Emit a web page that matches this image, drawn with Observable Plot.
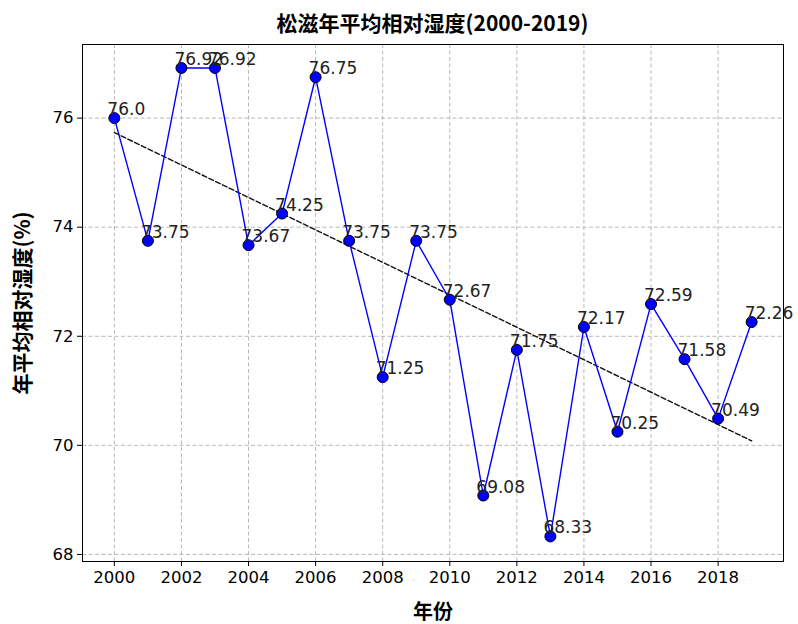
<!DOCTYPE html>
<html>
<head>
<meta charset="utf-8">
<script src="https://cdn.jsdelivr.net/npm/d3@7"></script>
<script src="https://cdn.jsdelivr.net/npm/@observablehq/plot@0.6"></script>
<style>
  body { margin: 0; background: #fff; }
  #wrap { position: relative; width: 798px; height: 624px; }
  #title { position: absolute; left: 82px; width: 701px; top: 7px; text-align: center;
    font-family: "Noto Sans CJK SC", sans-serif; font-weight: bold; font-size: 21px; line-height: 30px; color: #000; }
  #chart { position: absolute; left: 0; top: 36px; }
</style>
</head>
<body>
<div id="wrap">
  <div id="title">松滋年平均相对湿度(2000-2019)</div>
  <div id="chart"></div>
</div>
<script>
const years = [2000, 2001, 2002, 2003, 2004, 2005, 2006, 2007, 2008, 2009, 2010, 2011, 2012, 2013, 2014, 2015, 2016, 2017, 2018, 2019];
const humidity = [76.0, 73.75, 76.92, 76.92, 73.67, 74.25, 76.75, 73.75, 71.25, 73.75, 72.67, 69.08, 71.75, 68.33, 72.17, 70.25, 72.59, 71.58, 70.49, 72.26];
const valueLabels = ["76.0", "73.75", "76.92", "76.92", "73.67", "74.25", "76.75", "73.75", "71.25", "73.75", "72.67", "69.08", "71.75", "68.33", "72.17", "70.25", "72.59", "71.58", "70.49", "72.26"];
const xTicks = [2000, 2002, 2004, 2006, 2008, 2010, 2012, 2014, 2016, 2018];
const yTicks = [68, 70, 72, 74, 76];
const xLabel = "年份";
const yLabel = "年平均相对湿度(%)";

const data = years.map((y, i) => ({year: y, value: humidity[i], label: valueLabels[i]}));

const cjk = "Noto Sans CJK SC";
const chart = Plot.plot({
  width: 798,
  height: 588,
  marginLeft: 82,
  marginRight: 15,
  marginTop: 8,
  marginBottom: 63,
  style: {fontFamily: "DejaVu Sans", fontSize: "16px", color: "#000", background: "#fff"},
  x: {domain: [1999.05, 2019.95], ticks: xTicks, tickFormat: "d"},
  y: {domain: [67.87, 77.35], ticks: yTicks, tickFormat: "d"},
  marks: [
    Plot.gridX(xTicks, {stroke: "#b0b0b0", strokeOpacity: 1, strokeDasharray: "4,2.5", strokeWidth: 0.9}),
    Plot.gridY(yTicks, {stroke: "#b0b0b0", strokeOpacity: 1, strokeDasharray: "4,2.5", strokeWidth: 0.9}),
    Plot.axisX(xTicks, {tickSize: 5, tickPadding: 5, label: null, tickFormat: "d", fontSize: 16.5}),
    Plot.axisY(yTicks, {tickSize: 5, tickPadding: 4, label: null, tickFormat: "d", fontSize: 16.5}),
    Plot.linearRegressionY(data, {x: "year", y: "value", stroke: "#111", strokeWidth: 1.4, strokeDasharray: "5,2.5", ci: 0}),
    Plot.line(data, {x: "year", y: "value", stroke: "#0000ff", strokeWidth: 1.4}),
    Plot.dot(data, {x: "year", y: "value", r: 5.5, fill: "#0000ff", stroke: "#000", strokeWidth: 1}),
    Plot.text(data, {x: "year", y: "value", text: "label", textAnchor: "start", lineAnchor: "bottom", dx: -7, dy: -3, fontSize: 17, fill: "#222"}),
    Plot.frame({stroke: "#000", strokeWidth: 1}),
    Plot.text([yLabel], {frameAnchor: "left", textAnchor: "middle", lineAnchor: "middle", rotate: -90, dx: -59, fontFamily: cjk, fontWeight: "bold", fontSize: 21, fill: "#000"}),
    Plot.text([xLabel], {frameAnchor: "bottom", textAnchor: "middle", lineAnchor: "middle", dy: 51, fontFamily: cjk, fontWeight: "bold", fontSize: 20, fill: "#000"})
  ]
});
document.getElementById("chart").appendChild(chart);
</script>
</body>
</html>
